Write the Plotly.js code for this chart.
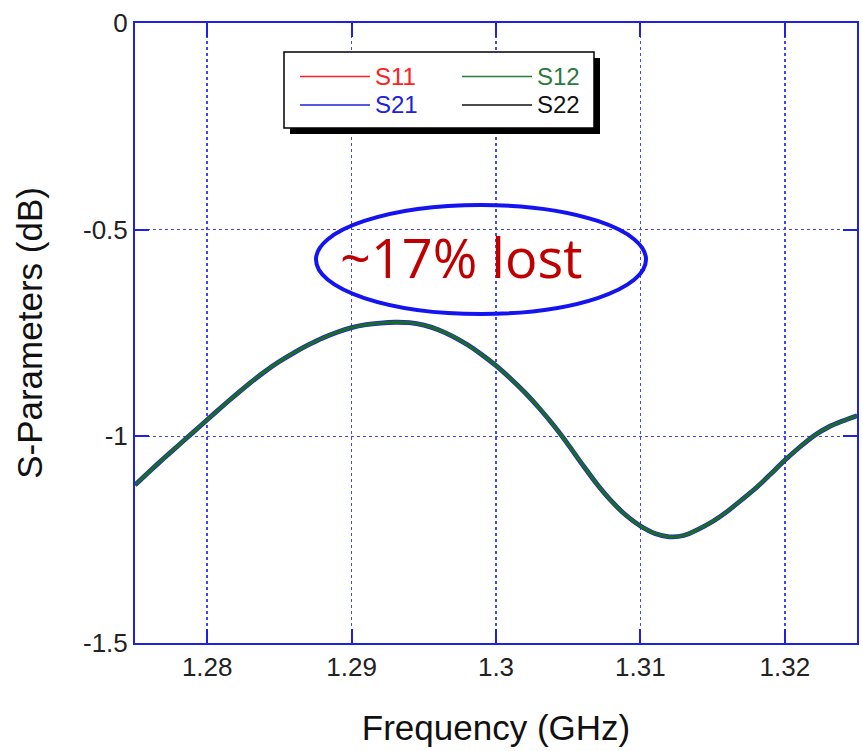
<!DOCTYPE html>
<html>
<head>
<meta charset="utf-8">
<script src="https://cdn.plot.ly/plotly-3.0.1.min.js"></script>
<style>html,body{margin:0;padding:0;background:#fff;}#chart{width:863px;height:751px;}</style>
</head>
<body>
<div id="chart"></div>
<script>
// ---- data ----
const freqGHz = [1.275,1.276,1.277,1.278,1.279,1.280,1.281,1.282,1.283,1.284,
                 1.285,1.286,1.287,1.288,1.289,1.290,1.291,1.292,1.293,1.294,
                 1.295,1.296,1.297,1.298,1.299,1.300,1.301,1.302,1.303,1.304,
                 1.305,1.306,1.307,1.308,1.309,1.310,1.311,1.312,1.313,1.314,
                 1.315,1.316,1.317,1.318,1.319,1.320,1.321,1.322,1.323,1.324,1.325];
const s21Db = [-1.118,-1.085,-1.053,-1.022,-0.991,-0.960,-0.929,-0.899,-0.870,-0.843,
               -0.819,-0.798,-0.779,-0.762,-0.748,-0.737,-0.730,-0.726,-0.724,-0.725,
               -0.731,-0.742,-0.758,-0.778,-0.802,-0.829,-0.860,-0.894,-0.932,-0.974,
               -1.020,-1.069,-1.116,-1.157,-1.191,-1.217,-1.235,-1.243,-1.240,-1.225,
               -1.206,-1.182,-1.154,-1.125,-1.092,-1.058,-1.027,-0.999,-0.978,-0.963,-0.950];
const s12Db = [-1.118,-1.085,-1.053,-1.022,-0.991,-0.960,-0.929,-0.899,-0.870,-0.843,
               -0.819,-0.798,-0.779,-0.762,-0.748,-0.737,-0.730,-0.726,-0.724,-0.725,
               -0.731,-0.742,-0.758,-0.778,-0.802,-0.829,-0.860,-0.894,-0.932,-0.974,
               -1.020,-1.069,-1.116,-1.157,-1.191,-1.217,-1.235,-1.243,-1.240,-1.225,
               -1.206,-1.182,-1.154,-1.125,-1.092,-1.058,-1.027,-0.999,-0.978,-0.963,-0.950];
const xTickVals = [1.28, 1.29, 1.30, 1.31, 1.32];
const xTickText = ['1.28', '1.29', '1.3', '1.31', '1.32'];
const yTickVals = [-1.5, -1, -0.5, 0];
const yTickText = ['-1.5', '-1', '-0.5', '0'];
const legendNames = ['S11', 'S12', 'S21', 'S22'];
const legendColors = ['#ff2020', '#2a7a3a', '#2020e0', '#111111'];
const noteText = '~17% lost';

// ---- geometry helpers (pixel -> paper) ----
const W = 863, H = 751;
const M = {l: 135, r: 6, t: 23, b: 108};
const PW = W - M.l - M.r, PH = H - M.t - M.b;
const px = x => (x - M.l) / PW;
const py = y => (H - M.b - y) / PH;

const axisBlue = 'rgb(32,32,228)';
const gridBlue = 'rgb(70,70,240)';
const font = 'Liberation Sans, Arial, sans-serif';

const traces = [
  {x: freqGHz, y: s21Db, type: 'scatter', mode: 'lines', name: 'S21',
   line: {color: '#2020e0', width: 4.8, shape: 'spline', smoothing: 0.8}, showlegend: false, hoverinfo: 'skip'},
  {x: freqGHz, y: s12Db, type: 'scatter', mode: 'lines', name: 'S12',
   line: {color: '#1b6a28', width: 3.4, shape: 'spline', smoothing: 0.8}, showlegend: false, hoverinfo: 'skip'}
];

// custom legend (box with drop shadow, 2 columns)
const shapes = [
  {type: 'rect', xref: 'paper', yref: 'paper', x0: px(290), x1: px(600), y0: py(134), y1: py(58),
   fillcolor: '#000', line: {width: 0}, layer: 'above'},
  {type: 'rect', xref: 'paper', yref: 'paper', x0: px(284), x1: px(594), y0: py(128), y1: py(52),
   fillcolor: '#fff', line: {color: '#000', width: 1.5}, layer: 'above'},
  {type: 'circle', xref: 'paper', yref: 'paper', x0: px(316), x1: px(646), y0: py(314), y1: py(205),
   line: {color: 'rgb(20,20,240)', width: 4}, layer: 'above'}
];
const annotations = [];
const legPos = [[300, 76.5], [462, 76.5], [300, 105], [462, 105]];
legendNames.forEach((n, i) => {
  const [lx, ly] = legPos[i];
  shapes.push({type: 'line', xref: 'paper', yref: 'paper', x0: px(lx), x1: px(lx + 70),
    y0: py(ly), y1: py(ly), line: {color: legendColors[i], width: 1.5}, layer: 'above'});
  annotations.push({xref: 'paper', yref: 'paper', x: px(lx + 73), y: py(ly), xanchor: 'left',
    yanchor: 'middle', text: n, showarrow: false, font: {family: font, size: 24, color: legendColors[i]}});
});
annotations.push({xref: 'paper', yref: 'paper', x: px(461), y: py(257), xanchor: 'center', yanchor: 'middle',
  text: noteText, showarrow: false, font: {family: 'Open Sans, Noto Sans, sans-serif', size: 54, color: '#c00000'}});

const axisCommon = {
  showline: true, linecolor: axisBlue, linewidth: 2, mirror: 'ticks',
  ticks: 'inside', ticklen: 14, tickwidth: 2, tickcolor: axisBlue,
  showgrid: true, gridcolor: gridBlue, gridwidth: 1.5, griddash: 'dot',
  zeroline: false, tickfont: {family: font, size: 26, color: '#222'}, fixedrange: true
};

const layout = {
  width: W, height: H, margin: M,
  paper_bgcolor: '#fff', plot_bgcolor: '#fff',
  showlegend: false,
  xaxis: Object.assign({}, axisCommon, {
    range: [1.275, 1.325], tickmode: 'array', tickvals: xTickVals, ticktext: xTickText,
    title: {text: 'Frequency (GHz)', font: {family: font, size: 35, color: '#111'}, standoff: 34}
  }),
  yaxis: Object.assign({}, axisCommon, {
    range: [-1.5, 0], tickmode: 'array', tickvals: yTickVals, ticktext: yTickText,
    title: {text: 'S-Parameters (dB)', font: {family: font, size: 35, color: '#111'}, standoff: 30}
  }),
  shapes: shapes,
  annotations: annotations
};

Plotly.newPlot('chart', traces, layout, {displayModeBar: false, staticPlot: true});
</script>
</body>
</html>
